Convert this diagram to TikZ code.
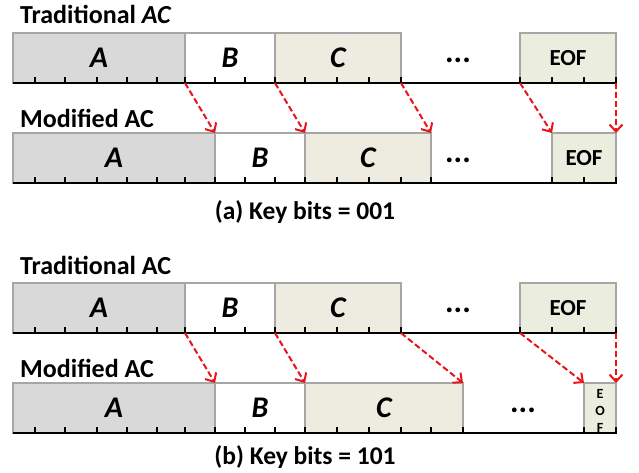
\documentclass[tikz,border=0pt]{standalone}
\usepackage{fontspec}
\setmainfont{Carlito}
\usetikzlibrary{arrows.meta}
\definecolor{boxgray}{HTML}{A6A6A6}
\definecolor{fillA}{HTML}{D9D9D9}
\definecolor{fillC}{HTML}{EEECE1}
\definecolor{fillE}{HTML}{EBEEDF}
\definecolor{arrred}{HTML}{E8141A}
\begin{document}
\begin{tikzpicture}[x=1pt,y=-1pt,
  seg/.style={draw=boxgray, line width=2.5pt, inner sep=0pt, outer sep=0pt,
    minimum height=50pt, anchor=south west,
    font=\fontsize{30}{34}\selectfont\bfseries\itshape},
  eofbox/.style={seg, fill=fillE, font=\fontsize{23}{26}\selectfont\bfseries},
  lbl/.style={anchor=base west, inner sep=0pt, font=\fontsize{26}{28}\selectfont\bfseries},
  captext/.style={anchor=base, inner sep=0pt, font=\fontsize{25.5}{28}\selectfont\bfseries},
  dotstext/.style={inner sep=0pt, font=\fontsize{32}{34}\selectfont\bfseries},
  axisline/.style={line width=2.5pt, black},
  tickmark/.style={line width=2.5pt, black},
  shiftarrow/.style={arrred, line width=2pt, dash pattern=on 6pt off 3pt,
    -{Straight Barb[length=7pt,width=13pt,line width=2pt]}}
]
\useasboundingbox (0,0) rectangle (639,473);

% ---------- (a) ----------
\node[lbl] (ta) at (20,24) {Traditional \textit{AC}};
\node[seg, fill=fillA, minimum width=172pt] (taA) at (13,83) {A};
\node[seg, fill=white, minimum width=90pt] (taB) at (185,83) {B};
\node[seg, fill=fillC, minimum width=126pt] (taC) at (275,83) {C};
\node[eofbox, minimum width=96pt] (taE) at (520,83) {EOF};
\node[dotstext] (tadots) at (458,60) {...};
\draw[axisline] (13,83) -- (617,83);
\foreach \x in {35,65,97,127,157,185,215,245,275,305,337,369,401,520,552,584,616}
  \draw[tickmark] (\x,83) -- ++(0,-6);

\node[lbl] (ma) at (20,128) {Modified AC};
\node[seg, fill=fillA, minimum width=202pt] (maA) at (13,183) {A};
\node[seg, fill=white, minimum width=90pt] (maB) at (215,183) {B};
\node[seg, fill=fillC, minimum width=126pt] (maC) at (305,183) {C};
\node[eofbox, minimum width=64pt] (maE) at (552,183) {EOF};
\node[dotstext] (madots) at (458,160) {...};
\draw[axisline] (13,183) -- (617,183);
\foreach \x in {35,65,97,127,157,185,215,245,275,305,337,369,401,431,552,584,616}
  \draw[tickmark] (\x,183) -- ++(0,-6);

\draw[shiftarrow] (taA.south east) -- (maA.north east);
\draw[shiftarrow] (taB.south east) -- (maB.north east);
\draw[shiftarrow] (taC.south east) -- (maC.north east);
\draw[shiftarrow] (taE.south west) -- (maE.north west);
\draw[shiftarrow] (taE.south east) -- (maE.north east);

\node[captext] (capa) at (305,219) {(a) Key bits = 001};

% ---------- (b) ----------
\node[lbl] (tb) at (20,274) {Traditional AC};
\node[seg, fill=fillA, minimum width=172pt] (tbA) at (13,333) {A};
\node[seg, fill=white, minimum width=90pt] (tbB) at (185,333) {B};
\node[seg, fill=fillC, minimum width=126pt] (tbC) at (275,333) {C};
\node[eofbox, minimum width=96pt] (tbE) at (520,333) {EOF};
\node[dotstext] (tbdots) at (458,310) {...};
\draw[axisline] (13,333) -- (617,333);
\foreach \x in {35,65,97,127,157,185,215,245,275,305,337,369,401,520,552,584,616}
  \draw[tickmark] (\x,333) -- ++(0,-6);

\node[lbl] (mb) at (20,377) {Modified AC};
\node[seg, fill=fillA, minimum width=202pt] (mbA) at (13,433) {A};
\node[seg, fill=white, minimum width=90pt] (mbB) at (215,433) {B};
\node[seg, fill=fillC, minimum width=158pt] (mbC) at (305,433) {C};
\node[seg, fill=fillE, minimum width=32pt] (mbE) at (584,433) {};
\node[align=center, inner sep=0pt, font=\fontsize{14}{17}\selectfont\bfseries]
  (mbEtxt) at (600,411) {E\\O\\F};
\node[dotstext] (mbdots) at (523,410) {...};
\draw[axisline] (13,433) -- (617,433);
\foreach \x in {35,65,97,127,157,185,215,245,275,305,337,369,401,431,463,584,616}
  \draw[tickmark] (\x,433) -- ++(0,-6);

\draw[shiftarrow] (tbA.south east) -- (mbA.north east);
\draw[shiftarrow] (tbB.south east) -- (mbB.north east);
\draw[shiftarrow] (tbC.south east) -- (mbC.north east);
\draw[shiftarrow] (tbE.south west) -- (mbE.north west);
\draw[shiftarrow] (tbE.south east) -- (mbE.north east);

\node[captext] (capb) at (305,464) {(b) Key bits = 101};
\end{tikzpicture}
\end{document}
